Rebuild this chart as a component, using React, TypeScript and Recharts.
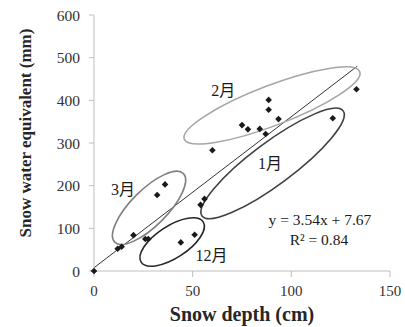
import React from "react";
import {
  ScatterChart,
  Scatter,
  XAxis,
  YAxis,
  ReferenceLine,
  ReferenceDot,
} from "recharts";

// Snow depth (cm) vs snow water equivalent (mm)
const depth = [0, 12, 14, 20, 26, 27.5, 32, 36, 44, 51, 54, 56, 60, 75, 78, 84, 87, 88.5, 88.5, 93.5, 121, 133];
const swe = [0, 52, 57, 84, 75, 75, 178, 203, 67, 85, 155, 169, 283, 342, 332, 333, 321, 378, 401, 356, 358, 426];

const xTicks = [0, 50, 100, 150];
const yTicks = [0, 100, 200, 300, 400, 500, 600];

// regression y = 3.54x + 7.67, drawn over the observed depth range
const slope = 3.54;
const intercept = 7.67;
const fitRange = [0, 133.4];

// month groups: label, ellipse centre (data units)
const groupLabels = ["2月", "1月", "3月", "12月"];
const groupCx = [90.2, 90.5, 27.9, 39.6];
const groupCy = [388, 252, 148, 68];
const labelX = [65.5, 89.2, 14.7, 59.6];
const labelY = [424, 252, 190, 37.5];

// ellipse shapes in pixels
const ellipseStyle = [
  { rx: 94, ry: 20, angle: 21, stroke: "#a6a6a6" },
  { rx: 88, ry: 21, angle: 36.7, stroke: "#404040" },
  { rx: 48.5, ry: 18, angle: 45, stroke: "#7f7f7f" },
  { rx: 37, ry: 16, angle: 33, stroke: "#262626" },
];

const points = depth.map((d, i) => ({ depth: d, swe: swe[i] }));
const fitLine = fitRange.map((x) => ({ x, y: slope * x + intercept }));

const FONT = "'Liberation Serif', 'Times New Roman', 'Noto Sans CJK JP', serif";

function Diamond(props: any) {
  const { cx, cy } = props;
  if (cx == null || cy == null) return null;
  const r = 3.3;
  return (
    <polygon
      points={`${cx},${cy - r} ${cx + r},${cy} ${cx},${cy + r} ${cx - r},${cy}`}
      fill="#1a1a1a"
    />
  );
}

export default function App() {
  return (
    <div style={{ position: "absolute", left: 0, top: 0, background: "#fff" }}>
      <ScatterChart
        width={405}
        height={327}
        margin={{ top: 15, right: 15, bottom: 0, left: 0 }}
      >
        <XAxis
          type="number"
          dataKey="depth"
          domain={[0, 150]}
          ticks={xTicks}
          height={56}
          tickSize={6}
          tickMargin={8}
          axisLine={{ stroke: "#bfbfbf" }}
          tickLine={{ stroke: "#bfbfbf" }}
          tick={{ fontSize: 15, fill: "#333", fontFamily: FONT }}
          label={{
            content: (p: any) => {
              const vb = p.viewBox || { x: 94, y: 271, width: 296, height: 56 };
              return (
                <text
                  x={vb.x + vb.width / 2}
                  y={vb.y + 50}
                  textAnchor="middle"
                  fontFamily={FONT}
                  fontWeight="bold"
                  fontSize={20}
                  fill="#262626"
                >
                  Snow depth (cm)
                </text>
              );
            },
          }}
        />
        <YAxis
          type="number"
          dataKey="swe"
          domain={[0, 600]}
          ticks={yTicks}
          width={94}
          tickSize={5}
          tickMargin={9}
          axisLine={{ stroke: "#bfbfbf" }}
          tickLine={{ stroke: "#bfbfbf" }}
          tick={{ fontSize: 15.5, fill: "#333", fontFamily: FONT }}
          label={{
            content: (p: any) => {
              const vb = p.viewBox || { x: 0, y: 15, width: 94, height: 256 };
              const x = vb.x + 31;
              const y = vb.y + vb.height / 2 - 10;
              return (
                <text
                  x={x}
                  y={y}
                  transform={`rotate(-90 ${x} ${y})`}
                  textAnchor="middle"
                  fontFamily={FONT}
                  fontWeight="bold"
                  fontSize={17}
                  fill="#262626"
                >
                  Snow water equivalent (mm)
                </text>
              );
            },
          }}
        />
        <ReferenceLine
          segment={fitLine}
          stroke="#1a1a1a"
          strokeWidth={0.9}
          ifOverflow="visible"
        />
        {groupLabels.map((g, i) => (
          <ReferenceDot
            key={"e" + g}
            x={groupCx[i]}
            y={groupCy[i]}
            ifOverflow="visible"
            shape={(p: any) => (
              <ellipse
                cx={p.cx}
                cy={p.cy}
                rx={ellipseStyle[i].rx}
                ry={ellipseStyle[i].ry}
                transform={`rotate(${-ellipseStyle[i].angle} ${p.cx} ${p.cy})`}
                fill="none"
                stroke={ellipseStyle[i].stroke}
                strokeWidth={1.6}
              />
            )}
          />
        ))}
        <Scatter data={points} shape={<Diamond />} isAnimationActive={false} />
        {groupLabels.map((g, i) => (
          <ReferenceDot
            key={"l" + g}
            x={labelX[i]}
            y={labelY[i]}
            ifOverflow="visible"
            shape={(p: any) => (
              <text
                x={p.cx}
                y={p.cy}
                textAnchor="middle"
                dominantBaseline="central"
                fontFamily={FONT}
                fontSize={16}
                fill="#1a1a1a"
              >
                {g}
              </text>
            )}
          />
        ))}
        <ReferenceDot
          x={114.5}
          y={120}
          ifOverflow="visible"
          shape={(p: any) => (
            <text
              x={p.cx}
              y={p.cy}
              textAnchor="middle"
              dominantBaseline="central"
              fontFamily={FONT}
              fontSize={15.5}
              fill="#1a1a1a"
            >
              {`y = ${slope}x + ${intercept}`}
            </text>
          )}
        />
        <ReferenceDot
          x={114}
          y={75}
          ifOverflow="visible"
          shape={(p: any) => (
            <text
              x={p.cx}
              y={p.cy}
              textAnchor="middle"
              dominantBaseline="central"
              fontFamily={FONT}
              fontSize={15.5}
              fill="#1a1a1a"
            >
              R² = 0.84
            </text>
          )}
        />
      </ScatterChart>
    </div>
  );
}
